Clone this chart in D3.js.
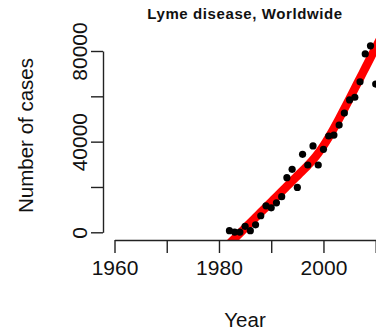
<!DOCTYPE html>
<html>
<head>
<meta charset="utf-8">
<script src="https://cdn.jsdelivr.net/npm/d3@7"></script>
<style>
  html, body { margin: 0; padding: 0; background: #fff; }
  svg { display: block; }
  text { font-family: "Liberation Sans", Arial, Helvetica, sans-serif; fill: #111; }
</style>
</head>
<body>
<svg id="chart" width="376" height="332"></svg>
<script>
// Reported Lyme disease cases per year
const years = [1982, 1983, 1984, 1985, 1986, 1987, 1988, 1989, 1990, 1991,
               1992, 1993, 1994, 1995, 1996, 1997, 1998, 1999, 2000, 2001,
               2002, 2003, 2004, 2005, 2006, 2007, 2008, 2009, 2010];
const cases = [700, 100, 100, 2650, 700, 3300, 7300, 11700, 10800, 13000,
               15700, 24100, 27800, 19800, 34400, 29700, 38100, 29700, 36600, 42500,
               42900, 47300, 52600, 58400, 59600, 66400, 78700, 82300, 65400];

// Smoothed trend through the yearly counts
const fitYears = [1982, 1983, 1984, 1985, 1986, 1987, 1988, 1989, 1990, 1991,
                  1992, 1993, 1994, 1995, 1996, 1997, 1998, 1999, 2000, 2001,
                  2002, 2003, 2004, 2005, 2006, 2007, 2008, 2009, 2010, 2011, 2012];
const fitValues = [-5000, -2700, -400, 1900, 4200, 6500, 8800, 11100, 13400, 15700,
                   18000, 20300, 22600, 24900, 27200, 29500, 32000, 34900, 38200, 41900,
                   45900, 50100, 54500, 59000, 63500, 68000, 72500, 77000, 81500, 86000, 90500];

// Axis ticks and the labels that are printed
const xTicks = [1960, 1970, 1980, 1990, 2000, 2010];
const xLabels = [1960, 1980, 2000];
const yTicks = [0, 20000, 40000, 60000, 80000];
const yLabels = [0, 40000, 80000];

const svg = d3.select("#chart");

const x = d3.scaleLinear().domain([1960, 2010]).range([114.5, 375.7]);
const y = d3.scaleLinear().domain([0, 80000]).range([232.3, 51]);

// Plot region clip
svg.append("defs").append("clipPath").attr("id", "plotClip")
  .append("rect").attr("x", 106).attr("y", 0).attr("width", 300).attr("height", 240);

// Trend line
const line = d3.line()
  .x((d, i) => x(fitYears[i]))
  .y(d => y(d))
  .curve(d3.curveMonotoneX);

svg.append("path")
  .datum(fitValues)
  .attr("clip-path", "url(#plotClip)")
  .attr("d", line)
  .attr("fill", "none")
  .attr("stroke", "#ff0000")
  .attr("stroke-width", 8.5)
  .attr("stroke-linecap", "round")
  .attr("stroke-linejoin", "round");

// Points
svg.append("g")
  .selectAll("circle")
  .data(cases)
  .join("circle")
  .attr("cx", (d, i) => x(years[i]))
  .attr("cy", d => y(d))
  .attr("r", 3.6)
  .attr("fill", "#000");

// X axis
const xAxis = d3.axisBottom(x)
  .tickValues(xTicks)
  .tickSize(13)
  .tickSizeOuter(0)
  .tickFormat(d => xLabels.includes(d) ? String(d) : "");

const gx = svg.append("g").attr("transform", "translate(0,240)").call(xAxis);
gx.select(".domain").attr("stroke", "#222").attr("stroke-width", 1.4);
gx.selectAll(".tick line").attr("stroke", "#222").attr("stroke-width", 1.4);
gx.selectAll(".tick text")
  .attr("y", 35).attr("dy", 0)
  .style("font-size", "21px")
  .style("font-family", "'Liberation Sans', Arial, sans-serif")
  .attr("fill", "#111");

// Y axis
const yAxis = d3.axisLeft(y)
  .tickValues(yTicks)
  .tickSize(12)
  .tickSizeOuter(0)
  .tickFormat(d => yLabels.includes(d) ? String(d) : "");

const gy = svg.append("g").attr("transform", "translate(103,0)").call(yAxis);
gy.select(".domain").attr("stroke", "#222").attr("stroke-width", 1.4);
gy.selectAll(".tick line").attr("stroke", "#222").attr("stroke-width", 1.4);
gy.selectAll(".tick text")
  .attr("x", null).attr("dy", null)
  .attr("transform", "translate(-16,0) rotate(-90)")
  .attr("text-anchor", "middle")
  .style("font-size", "21px")
  .style("font-family", "'Liberation Sans', Arial, sans-serif")
  .attr("fill", "#111");

// Titles
svg.append("text")
  .attr("x", 245).attr("y", 19)
  .attr("text-anchor", "middle")
  .style("font-size", "15px")
  .style("font-weight", "bold")
  .style("letter-spacing", "0.6px")
  .text("Lyme disease, Worldwide");

svg.append("text")
  .attr("x", 245).attr("y", 327)
  .attr("text-anchor", "middle")
  .style("font-size", "20.5px")
  .text("Year");

svg.append("text")
  .attr("transform", "translate(33,135.5) rotate(-90)")
  .attr("text-anchor", "middle")
  .style("font-size", "20.5px")
  .text("Number of cases");
</script>
</body>
</html>
